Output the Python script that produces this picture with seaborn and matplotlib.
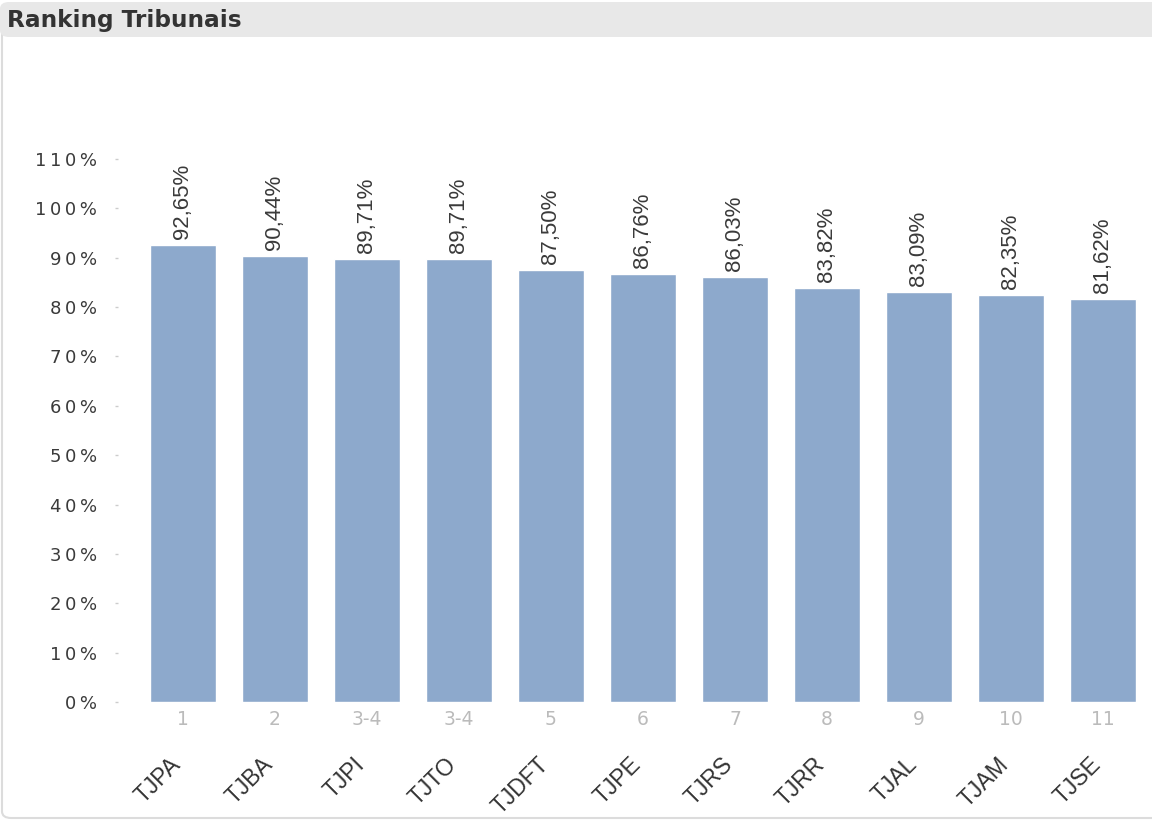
import matplotlib
matplotlib.use("Agg")
import matplotlib.pyplot as plt
import matplotlib.transforms as mtransforms
from matplotlib.patches import FancyBboxPatch
import seaborn as sns
import pandas as pd

sns.set_theme(style="white")
plt.rcParams['font.family'] = ['DejaVu Sans']

# data
tribunais = ["TJPA", "TJBA", "TJPI", "TJTO", "TJDFT", "TJPE", "TJRS", "TJRR", "TJAL", "TJAM", "TJSE"]
ranks = ["1", "2", "3-4", "3-4", "5", "6", "7", "8", "9", "10", "11"]
percentuais = [92.65, 90.44, 89.71, 89.71, 87.50, 86.76, 86.03, 83.82, 83.09, 82.35, 81.62]
yticks = [0, 10, 20, 30, 40, 50, 60, 70, 80, 90, 100, 110]

df = pd.DataFrame({"tribunal": tribunais, "pct": percentuais})

THIN = "\u2009"


def spaced(s):
    return THIN.join(s)


W, H = 1152, 826
fig = plt.figure(figsize=(W / 100, H / 100), dpi=100)

# panel frame and title bar
frame = FancyBboxPatch((2 / W, 8 / H), (W + 20) / W, (H - 14) / H,
                       boxstyle="round,pad=0,rounding_size=0.008",
                       transform=fig.transFigure, facecolor="white",
                       edgecolor="#dcdcdc", linewidth=1.5, zorder=-2)
fig.patches.append(frame)
bar = FancyBboxPatch((0, (H - 37) / H), (W + 20) / W, 35 / H,
                     boxstyle="round,pad=0,rounding_size=0.008",
                     transform=fig.transFigure, facecolor="#e8e8e8",
                     edgecolor="none", zorder=-1)
fig.patches.append(bar)
fig.text(7 / W, (H - 21) / H, "Ranking Tribunais", fontsize=16.7, fontweight="bold",
         color="#333333", va="center", ha="left")

# axes: 92 px per category, left edge at x=118, y 0..110 between 702 and 159
ax_left, ax_right = 118, 1152
ax_bottom, ax_top = 702, 159
ax = fig.add_axes([ax_left / W, (H - ax_bottom) / H,
                   (ax_right - ax_left) / W, (ax_bottom - ax_top) / H])
ax.patch.set_alpha(0)

sns.barplot(data=df, x="tribunal", y="pct", color="#8da9cc", saturation=1,
            width=0.717, ax=ax)

ax.set_xlim(-65 / 92, -65 / 92 + (ax_right - ax_left) / 92)
ax.set_ylim(0, 110)
for s in ax.spines.values():
    s.set_visible(False)

ax.set_yticks(yticks)
ax.set_yticklabels([spaced(f"{t}%") for t in yticks], fontsize=13, color="#3a3a3a")
ax.tick_params(axis="y", length=2, width=1, color="#cccccc", pad=13, left=True)

ax.set_xticks(range(len(ranks)))
ax.set_xticklabels(ranks, fontsize=13.5, color="#bbbbbb")
ax.tick_params(axis="x", length=0, pad=6)
ax.set_xlabel("")
ax.set_ylabel("")

# value labels above bars
up = mtransforms.ScaledTranslation(0, 6 / 100, fig.dpi_scale_trans)
for i, v in enumerate(percentuais):
    ax.text(i, v, f"{v:.2f}%".replace(".", ","), rotation=90, ha="center", va="bottom",
            fontsize=16, family="Liberation Sans", color="#3a3a3a",
            transform=ax.transData + up)

# tribunal names, rotated
down = mtransforms.ScaledTranslation(-14 / 100, -51 / 100, fig.dpi_scale_trans)
for i, name in enumerate(tribunais):
    ax.text(i, 0, name, rotation=45, rotation_mode="anchor", ha="right", va="top",
            fontsize=16.5, family="Liberation Sans", color="#333333",
            transform=ax.get_xaxis_transform() + down)

plt.savefig("out.png", dpi=100)
